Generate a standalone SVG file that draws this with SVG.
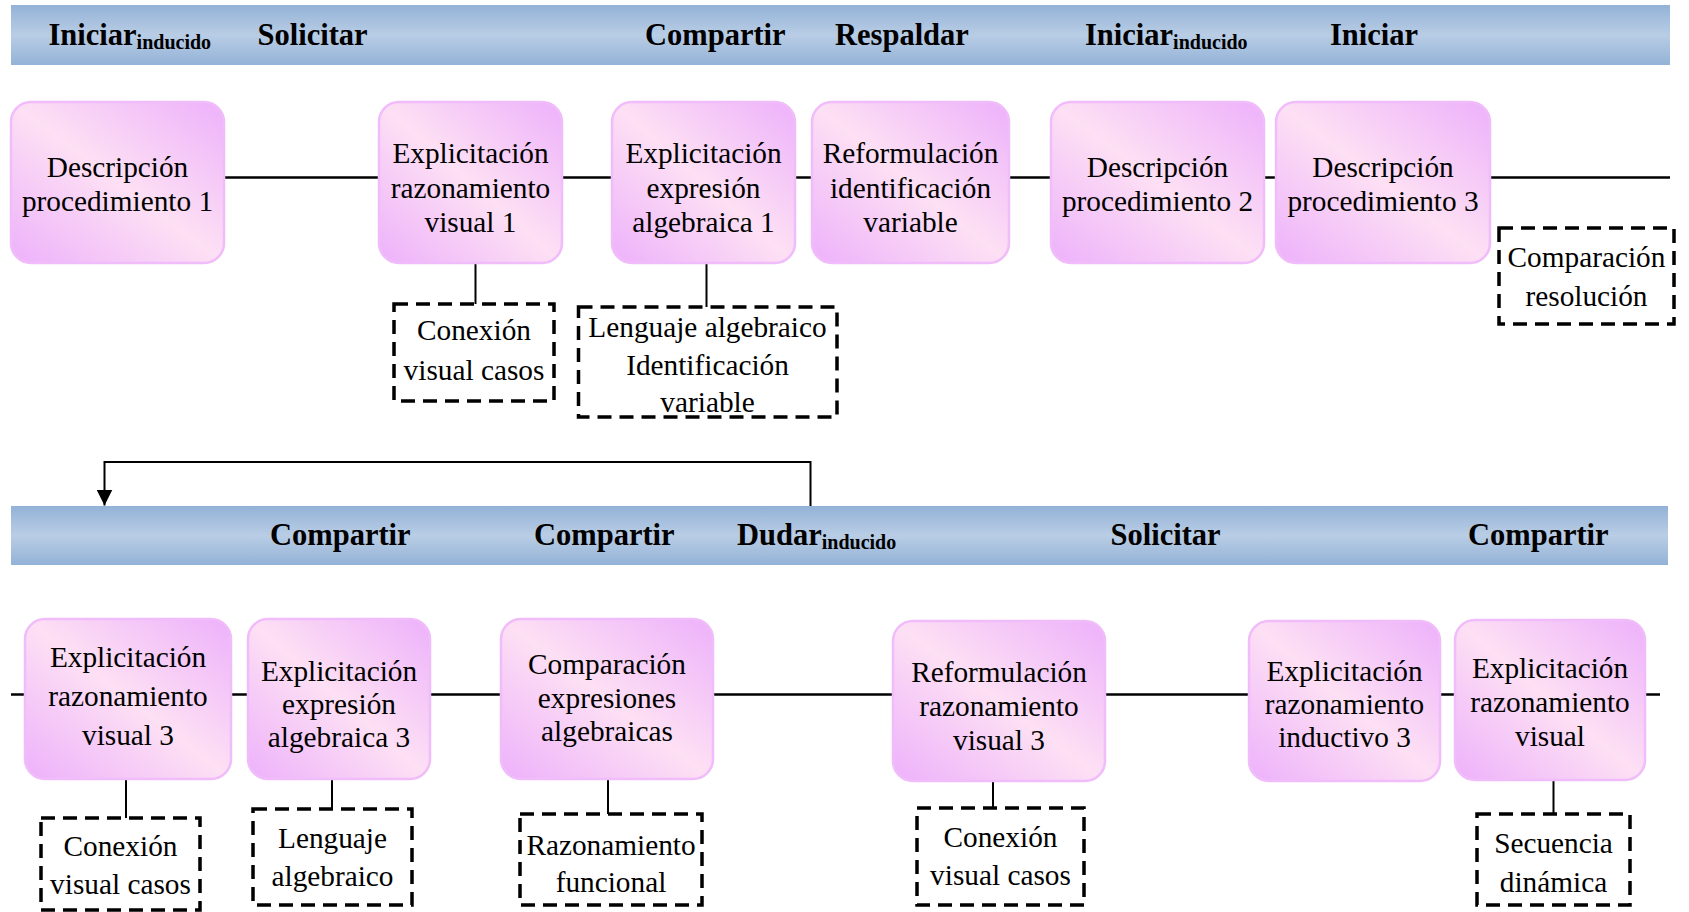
<svg xmlns="http://www.w3.org/2000/svg" width="1689" height="912" viewBox="0 0 1689 912">
  <defs>
    <linearGradient id="bandFill" x1="0" y1="0" x2="0" y2="1">
      <stop offset="0" stop-color="#93b2d7"/>
      <stop offset="0.5" stop-color="#b9cde5"/>
      <stop offset="1" stop-color="#93b2d7"/>
    </linearGradient>
    <linearGradient id="nodeFill" x1="1" y1="0" x2="0" y2="1">
      <stop offset="0" stop-color="#edb1fb"/>
      <stop offset="0.5" stop-color="#fde0f4"/>
      <stop offset="1" stop-color="#edb1fb"/>
    </linearGradient>
    <marker id="arrowDown" markerWidth="16" markerHeight="16" refX="16" refY="8" orient="auto" markerUnits="userSpaceOnUse">
      <path d="M0,0 L16,8 L0,16 Z" fill="#000"/>
    </marker>
  </defs>
  <style>
    .band { fill: url(#bandFill); }
    .bandText { font-family: "Liberation Serif", "Times New Roman", serif; font-weight: bold; font-size: 30.5px; fill: #000; }
    .sub { font-size: 20px; }
    .node rect { fill: url(#nodeFill); stroke: #f0bcf9; stroke-width: 2.5; }
    .node text, .note text { font-family: "Liberation Serif", "Times New Roman", serif; font-size: 29.3px; fill: #000; text-anchor: middle; }
    .note rect { fill: none; stroke: #000; stroke-width: 3.5; stroke-dasharray: 14 8; }
    .line { stroke: #000; stroke-width: 2.6; fill: none; }
    .link { stroke: #000; stroke-width: 2; fill: none; }
  </style>

  <rect width="1689" height="912" fill="#fff"/>

  <!-- Activity bands -->
  <g id="band-top">
    <rect class="band" x="11" y="5" width="1659" height="60"/>
    <text class="bandText" x="48.5" y="44.5">Iniciar<tspan class="sub" dy="4">inducido</tspan></text>
    <text class="bandText" x="257.5" y="44.5">Solicitar</text>
    <text class="bandText" x="645" y="44.5">Compartir</text>
    <text class="bandText" x="835" y="44.5">Respaldar</text>
    <text class="bandText" x="1085" y="44.5">Iniciar<tspan class="sub" dy="4">inducido</tspan></text>
    <text class="bandText" x="1330" y="44.5">Iniciar</text>
  </g>
  <g id="band-bottom">
    <rect class="band" x="11" y="506" width="1657" height="59"/>
    <text class="bandText" x="270" y="545">Compartir</text>
    <text class="bandText" x="534" y="545">Compartir</text>
    <text class="bandText" x="737" y="545">Dudar<tspan class="sub" dy="4">inducido</tspan></text>
    <text class="bandText" x="1110.5" y="545">Solicitar</text>
    <text class="bandText" x="1468" y="545">Compartir</text>
  </g>

  <!-- Connectors -->
  <g id="connectors">
    <line class="line" x1="224" y1="177.5" x2="1670" y2="177.5"/>
    <line class="line" x1="11" y1="694.5" x2="1660" y2="694.5"/>
    <line class="link" x1="475.5" y1="263" x2="475.5" y2="304"/>
    <line class="link" x1="706.5" y1="263" x2="706.5" y2="307"/>
    <path class="link" d="M810.5,506 V462 H104.5 V505.5" marker-end="url(#arrowDown)"/>
    <line class="link" x1="126" y1="779" x2="126" y2="818"/>
    <line class="link" x1="332" y1="779" x2="332" y2="809"/>
    <line class="link" x1="608" y1="779" x2="608" y2="814"/>
    <line class="link" x1="993" y1="781" x2="993" y2="808"/>
    <line class="link" x1="1553.5" y1="780" x2="1553.5" y2="814"/>
  </g>

  <!-- Upper sequence -->
  <g id="n-desc1" class="node">
    <rect x="11" y="102" width="213" height="161" rx="20"/>
    <text x="117.5" y="177">Descripción</text>
    <text x="117.5" y="211">procedimiento 1</text>
  </g>
  <g id="n-expl-vis1" class="node">
    <rect x="379" y="102" width="183" height="161" rx="20"/>
    <text x="470.5" y="163">Explicitación</text>
    <text x="470.5" y="197.5">razonamiento</text>
    <text x="470.5" y="232">visual 1</text>
  </g>
  <g id="n-expl-alg1" class="node">
    <rect x="612" y="102" width="183" height="161" rx="20"/>
    <text x="703.5" y="163">Explicitación</text>
    <text x="703.5" y="197.5">expresión</text>
    <text x="703.5" y="232">algebraica 1</text>
  </g>
  <g id="n-reform-var" class="node">
    <rect x="812" y="102" width="197" height="161" rx="20"/>
    <text x="910.5" y="163">Reformulación</text>
    <text x="910.5" y="197.5">identificación</text>
    <text x="910.5" y="232">variable</text>
  </g>
  <g id="n-desc2" class="node">
    <rect x="1051" y="102" width="213" height="161" rx="20"/>
    <text x="1157.5" y="177">Descripción</text>
    <text x="1157.5" y="211">procedimiento 2</text>
  </g>
  <g id="n-desc3" class="node">
    <rect x="1276" y="102" width="214" height="161" rx="20"/>
    <text x="1383" y="177">Descripción</text>
    <text x="1383" y="211">procedimiento 3</text>
  </g>

  <g id="c-conexion1" class="note">
    <rect x="394" y="304" width="160" height="97"/>
    <text x="474" y="340">Conexión</text>
    <text x="474" y="380">visual casos</text>
  </g>
  <g id="c-lenguaje1" class="note">
    <rect x="578.5" y="307" width="258.5" height="110"/>
    <text x="707.5" y="336.5">Lenguaje algebraico</text>
    <text x="707.5" y="375">Identificación</text>
    <text x="707.5" y="411.5">variable</text>
  </g>
  <g id="c-comparacion" class="note">
    <rect x="1499" y="228" width="175" height="96"/>
    <text x="1586.5" y="267">Comparación</text>
    <text x="1586.5" y="306">resolución</text>
  </g>

  <!-- Lower sequence -->
  <g id="n-expl-vis3" class="node">
    <rect x="25" y="619" width="206" height="160" rx="20"/>
    <text x="128" y="667">Explicitación</text>
    <text x="128" y="706">razonamiento</text>
    <text x="128" y="745">visual 3</text>
  </g>
  <g id="n-expl-alg3" class="node">
    <rect x="248" y="619" width="182" height="160" rx="20"/>
    <text x="339" y="681">Explicitación</text>
    <text x="339" y="714">expresión</text>
    <text x="339" y="747">algebraica 3</text>
  </g>
  <g id="n-comp-expr" class="node">
    <rect x="501" y="619" width="212" height="160" rx="20"/>
    <text x="607" y="674">Comparación</text>
    <text x="607" y="707.5">expresiones</text>
    <text x="607" y="741">algebraicas</text>
  </g>
  <g id="n-reform-vis3" class="node">
    <rect x="893" y="621" width="212" height="160" rx="20"/>
    <text x="999" y="682">Reformulación</text>
    <text x="999" y="716">razonamiento</text>
    <text x="999" y="750">visual 3</text>
  </g>
  <g id="n-expl-ind3" class="node">
    <rect x="1249" y="621" width="191" height="160" rx="20"/>
    <text x="1344.5" y="681">Explicitación</text>
    <text x="1344.5" y="714">razonamiento</text>
    <text x="1344.5" y="747">inductivo 3</text>
  </g>
  <g id="n-expl-vis" class="node">
    <rect x="1455" y="620" width="190" height="160" rx="20"/>
    <text x="1550" y="678">Explicitación</text>
    <text x="1550" y="712">razonamiento</text>
    <text x="1550" y="746">visual</text>
  </g>

  <g id="c-conexion3" class="note">
    <rect x="41" y="818" width="159" height="92"/>
    <text x="120.5" y="856">Conexión</text>
    <text x="120.5" y="894">visual casos</text>
  </g>
  <g id="c-lenguaje3" class="note">
    <rect x="253" y="809" width="159" height="96"/>
    <text x="332.5" y="848">Lenguaje</text>
    <text x="332.5" y="886">algebraico</text>
  </g>
  <g id="c-funcional" class="note">
    <rect x="520" y="814" width="182" height="91"/>
    <text x="611" y="855">Razonamiento</text>
    <text x="611" y="892">funcional</text>
  </g>
  <g id="c-conexion3b" class="note">
    <rect x="917" y="808" width="167" height="97"/>
    <text x="1000.5" y="847">Conexión</text>
    <text x="1000.5" y="885">visual casos</text>
  </g>
  <g id="c-secuencia" class="note">
    <rect x="1477" y="814" width="153" height="91"/>
    <text x="1553.5" y="853">Secuencia</text>
    <text x="1553.5" y="892">dinámica</text>
  </g>
</svg>
